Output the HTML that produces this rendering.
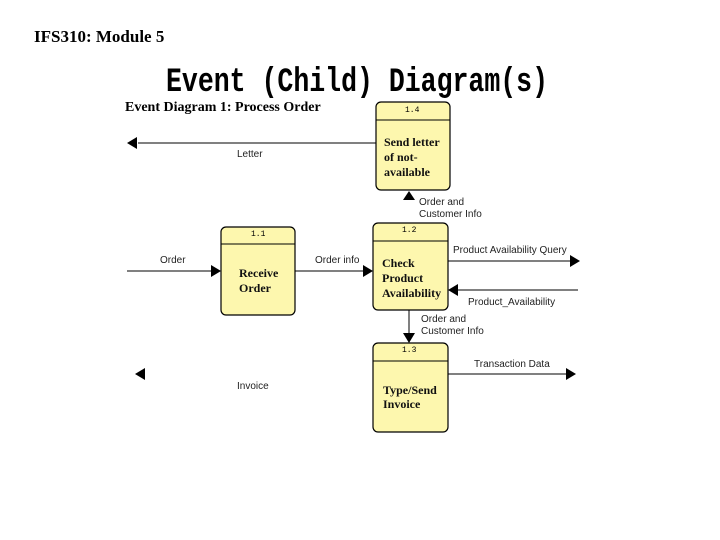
<!DOCTYPE html>
<html><head><meta charset="utf-8"><style>
html,body{margin:0;padding:0;background:#fff;width:720px;height:540px;overflow:hidden}
</style></head><body>
<svg width="720" height="540" xmlns="http://www.w3.org/2000/svg">
<text x="34" y="42" font-family="Liberation Serif" font-weight="bold" font-size="17">IFS310: Module 5</text>
<text x="166" y="91" font-family="Liberation Mono" font-weight="bold" font-size="34" textLength="382" lengthAdjust="spacingAndGlyphs">Event (Child) Diagram(s)</text>
<text x="125" y="111" font-family="Liberation Serif" font-weight="bold" font-size="14">Event Diagram 1: Process Order</text>
<g fill="#fdf7ae" stroke="#000" stroke-width="1.2">
<rect x="376" y="102" width="74" height="88" rx="5"/>
<rect x="221" y="227" width="74" height="88" rx="5"/>
<rect x="373" y="223" width="75" height="87" rx="5"/>
<rect x="373" y="343" width="75" height="89" rx="5"/>
</g>
<g stroke="#000" stroke-width="1">
<line x1="376" y1="120" x2="450" y2="120"/>
<line x1="221" y1="244" x2="295" y2="244"/>
<line x1="373" y1="241" x2="448" y2="241"/>
<line x1="373" y1="361" x2="448" y2="361"/>
<line x1="138" y1="143" x2="376" y2="143"/>
<line x1="127" y1="271" x2="212" y2="271"/>
<line x1="295" y1="271" x2="364" y2="271"/>
<line x1="448" y1="261" x2="570" y2="261"/>
<line x1="458" y1="290" x2="578" y2="290"/>
<line x1="409" y1="310" x2="409" y2="334"/>
<line x1="448" y1="374" x2="566" y2="374"/>
</g>
<g fill="#000">
<polygon points="127,143 137,137 137,149"/>
<polygon points="221,271 211,265 211,277"/>
<polygon points="373,271 363,265 363,277"/>
<polygon points="580,261 570,255 570,267"/>
<polygon points="448,290 458,284 458,296"/>
<polygon points="409,343 403,333 415,333"/>
<polygon points="409,191 403,200 415,200"/>
<polygon points="576,374 566,368 566,380"/>
<polygon points="135,374 145,368 145,380"/>
</g>
<g font-family="Liberation Sans" font-size="10" fill="#222">
<text x="237" y="157">Letter</text>
<text x="419" y="205">Order and</text>
<text x="419" y="217">Customer Info</text>
<text x="160" y="263">Order</text>
<text x="315" y="263">Order info</text>
<text x="453" y="253">Product Availability Query</text>
<text x="468" y="305">Product_Availability</text>
<text x="421" y="322">Order and</text>
<text x="421" y="334">Customer Info</text>
<text x="474" y="367">Transaction Data</text>
<text x="237" y="389">Invoice</text>
</g>
<g font-family="Liberation Mono" font-size="8" fill="#000">
<text x="405" y="112">1.4</text>
<text x="251" y="236">1.1</text>
<text x="402" y="232">1.2</text>
<text x="402" y="352">1.3</text>
</g>
<g font-family="Liberation Serif" font-weight="bold" font-size="12" fill="#111">
<text x="384" y="146">Send letter</text>
<text x="384" y="161">of not-</text>
<text x="384" y="176">available</text>
<text x="239" y="277">Receive</text>
<text x="239" y="292">Order</text>
<text x="382" y="267">Check</text>
<text x="382" y="282">Product</text>
<text x="382" y="297">Availability</text>
<text x="383" y="394">Type/Send</text>
<text x="383" y="408">Invoice</text>
</g>
</svg>
</body></html>
